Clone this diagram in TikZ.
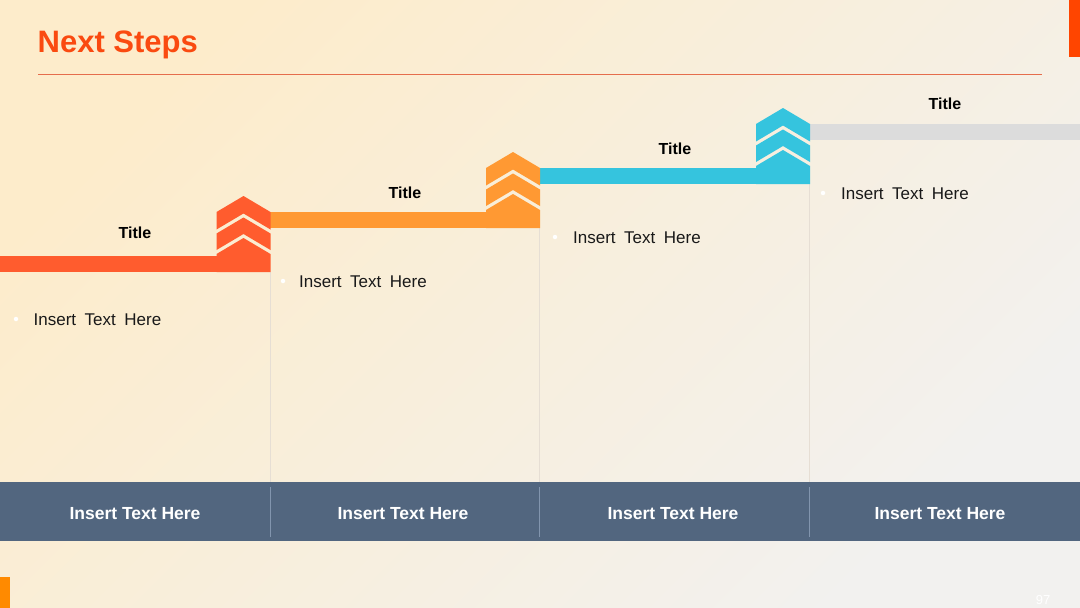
\documentclass[tikz,border=0pt]{standalone}
\usepackage{fontspec}
\setmainfont{Liberation Sans}
\definecolor{bgA}{HTML}{FDECCB}
\definecolor{bgB}{HTML}{F2F1EF}
\definecolor{stepA}{HTML}{FF5C2E}
\definecolor{stepB}{HTML}{FF9933}
\definecolor{stepC}{HTML}{35C4DE}
\definecolor{stepD}{HTML}{DCDCDC}
\definecolor{band}{HTML}{52667F}
\definecolor{bandline}{HTML}{8295AE}
\definecolor{headred}{HTML}{FA4A10}
\definecolor{rulered}{HTML}{E56D4C}
\definecolor{sepline}{HTML}{E6DED4}
\definecolor{accentA}{HTML}{FF4500}
\definecolor{accentB}{HTML}{FF8A00}
\newcommand{\bodyfont}{\fontsize{17}{19}\selectfont\setlength{\spaceskip}{8.5pt}}
\begin{document}
\begin{tikzpicture}[x=1pt,y=-1pt,
  steptitle/.style={font=\fontsize{16}{18}\selectfont\bfseries, text=black, anchor=base, inner sep=0pt},
  bodytext/.style={font=\bodyfont, text=black!90, anchor=base west, inner sep=0pt},
  bandtext/.style={font=\fontsize{17.5}{19}\selectfont\bfseries, text=white, anchor=base, inner sep=0pt},
  bulletdot/.style={circle, fill=white, inner sep=0pt, minimum size=4.5pt},
  sepstyle/.style={draw=sepline, line width=0.7pt},
  banddiv/.style={draw=bandline, line width=1pt}]
\useasboundingbox (0,0) rectangle (1080,608);
\shade[top color=bgA, bottom color=bgB, shading angle=45] (0,0) rectangle (1080,608);
% header
\node[font=\fontsize{31}{34}\selectfont\bfseries, text=headred, anchor=base west, inner sep=0pt] (head) at (37.5,52) {Next Steps};
\draw[rulered, line width=0.8pt] (38,74.5) -- (1042,74.5);
\fill[accentA] (1069,0) rectangle (1080,57);
\fill[accentB] (0,577) rectangle (10,608);
% separators
\draw[sepstyle] (270.5,272) -- (270.5,482);
\draw[sepstyle] (539.5,228) -- (539.5,482);
\draw[sepstyle] (809.5,184) -- (809.5,482);
% bars
\fill[stepA] (0,256) rectangle (270,272);
\fill[stepB] (270,212) rectangle (540,228);
\fill[stepC] (540,168) rectangle (810,184);
\fill[stepD] (810,124) rectangle (1080,140);
% chevrons: #1 left, #2 apex y, #3 colour
\newcommand{\chevstack}[3]{%
  \fill[#3] (#1,#2+16) -- (#1+27,#2) -- (#1+54,#2+16) -- (#1+54,#2+33.5) -- (#1+27,#2+17.5) -- (#1,#2+33.5) -- cycle;
  \fill[#3] (#1,#2+37.5) -- (#1+27,#2+21.5) -- (#1+54,#2+37.5) -- (#1+54,#2+54) -- (#1+27,#2+38) -- (#1,#2+54) -- cycle;
  \fill[#3] (#1,#2+58) -- (#1+27,#2+42) -- (#1+54,#2+58) -- (#1+54,#2+76) -- (#1,#2+76) -- cycle;
}
\chevstack{216.5}{196}{stepA}
\chevstack{486}{152}{stepB}
\chevstack{756}{108}{stepC}
% titles
\node[steptitle] (t1) at (135,238) {Title};
\node[steptitle] (t2) at (405,198) {Title};
\node[steptitle] (t3) at (675,154) {Title};
\node[steptitle] (t4) at (945,109.5) {Title};
% bullets
\node[bulletdot] (b1) at (16,319) {};
\node[bodytext] (x1) at (33.5,325) {Insert Text Here};
\node[bulletdot] (b2) at (283,281) {};
\node[bodytext] (x2) at (299,287) {Insert Text Here};
\node[bulletdot] (b3) at (555,237) {};
\node[bodytext] (x3) at (573,243) {Insert Text Here};
\node[bulletdot] (b4) at (823,193) {};
\node[bodytext] (x4) at (841,199) {Insert Text Here};
% bottom band
\fill[band] (0,482) rectangle (1080,541);
\draw[banddiv] (270.5,487) -- (270.5,537);
\draw[banddiv] (539.5,487) -- (539.5,537);
\draw[banddiv] (809.5,487) -- (809.5,537);
\node[bandtext] (f1) at (135,519.5) {Insert Text Here};
\node[bandtext] (f2) at (403,519.5) {Insert Text Here};
\node[bandtext] (f3) at (673,519.5) {Insert Text Here};
\node[bandtext] (f4) at (940,519.5) {Insert Text Here};
\node[font=\fontsize{13}{14}\selectfont, text=white, anchor=base, inner sep=0pt] (pg) at (1043,604) {97};
\end{tikzpicture}
\end{document}
